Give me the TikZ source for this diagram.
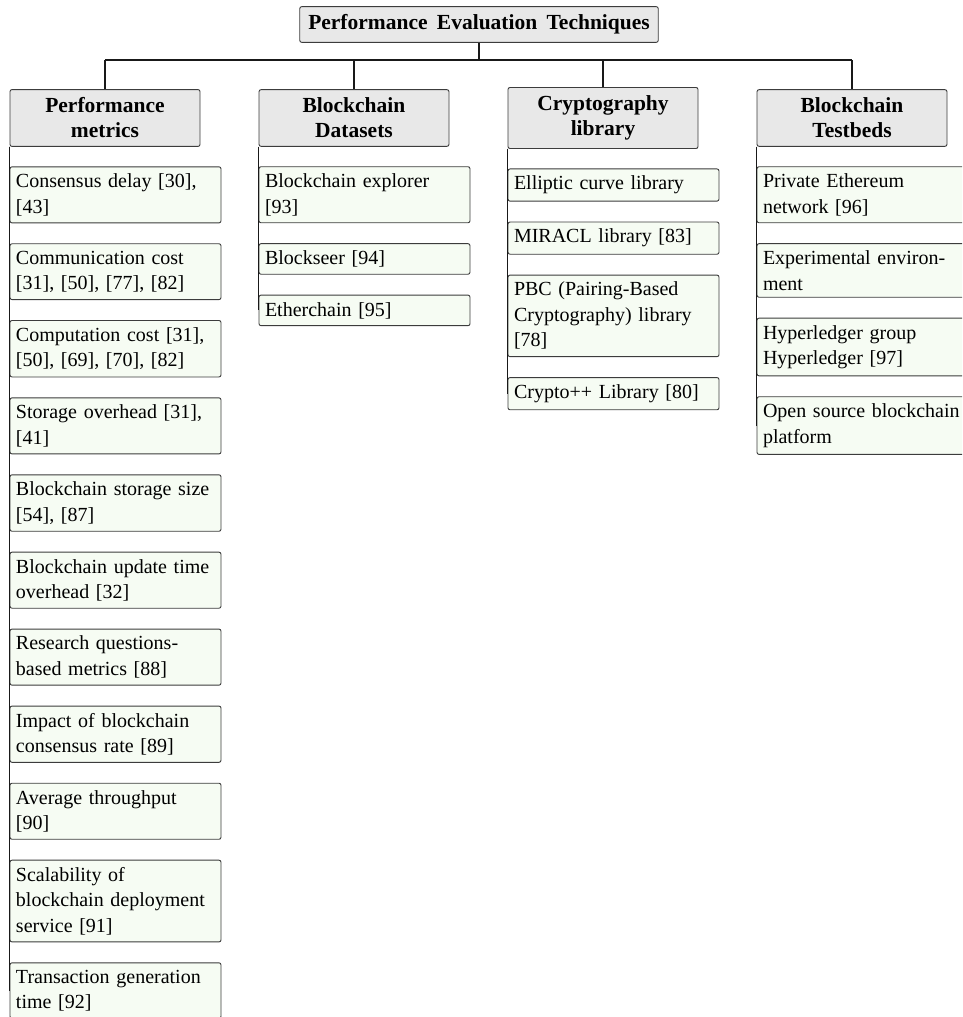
\documentclass[tikz,border=0pt]{standalone}
\usepackage{fontspec}
\setmainfont{Liberation Serif}
\definecolor{hdrfill}{RGB}{232,232,232}
\definecolor{leaffill}{RGB}{246,252,243}
\definecolor{bordercol}{RGB}{60,60,60}
\definecolor{linecol}{RGB}{25,25,25}
\begin{document}
\begin{tikzpicture}[x=1pt,y=-1pt,
  conn/.style={line width=1.3pt, draw=linecol},
  rootbox/.style={draw=bordercol, line width=0.9pt, rounded corners=2pt, fill=hdrfill,
    inner xsep=8.5pt, inner ysep=8pt,
    font=\fontsize{21.5}{25}\selectfont\bfseries},
  hdr/.style={draw=bordercol, line width=0.9pt, rounded corners=2pt, fill=hdrfill,
    text width=184pt, inner xsep=3pt, inner ysep=8.25pt, align=center,
    font=\fontsize{21.5}{25}\selectfont\bfseries},
  leaf/.style={draw=bordercol, line width=0.9pt, rounded corners=2pt, fill=leaffill,
    text width=199pt, inner xsep=6pt, inner ysep=7pt, align=left, anchor=north west,
    font=\fontsize{20}{25.5}\selectfont}]
\useasboundingbox (0,0) rectangle (962,1017);
\clip (0,0) rectangle (962,1017);

\node[rootbox] (root) at (479,24.5) {Performance\hspace{9.3pt}Evaluation\hspace{9.3pt}Techniques};
\node[hdr] (pm) at (105,118) {Performance\\metrics};
\node[hdr] (bd) at (354,118) {Blockchain\\Datasets};
\node[hdr] (cl) at (603,118) {Cryptography\\library};
\node[hdr] (bt) at (852,118) {Blockchain\\Testbeds};

% Performance metrics
\node[leaf] (pm1) at ([yshift=-19.5pt]pm.south west) {Consensus delay [30],\\{}[43]};
\node[leaf] (pm2) at ([yshift=-20pt]pm1.south west) {Communication cost\\{}[31], [50], [77], [82]};
\node[leaf] (pm3) at ([yshift=-20pt]pm2.south west) {Computation cost [31],\\{}[50], [69], [70], [82]};
\node[leaf] (pm4) at ([yshift=-20pt]pm3.south west) {Storage overhead [31],\\{}[41]};
\node[leaf] (pm5) at ([yshift=-20pt]pm4.south west) {Blockchain storage size\\{}[54], [87]};
\node[leaf] (pm6) at ([yshift=-20pt]pm5.south west) {Blockchain update time\\overhead [32]};
\node[leaf] (pm7) at ([yshift=-20pt]pm6.south west) {Research questions-\\based metrics [88]};
\node[leaf] (pm8) at ([yshift=-20pt]pm7.south west) {Impact of blockchain\\consensus rate [89]};
\node[leaf] (pm9) at ([yshift=-20pt]pm8.south west) {Average throughput\\{}[90]};
\node[leaf] (pm10) at ([yshift=-20pt]pm9.south west) {Scalability of\\blockchain deployment\\service [91]};
\node[leaf] (pm11) at ([yshift=-20pt]pm10.south west) {Transaction generation\\time [92]};

% Blockchain datasets
\node[leaf] (bd1) at ([yshift=-19.5pt]bd.south west) {Blockchain explorer\\{}[93]};
\node[leaf] (bd2) at ([yshift=-20pt]bd1.south west) {Blockseer [94]};
\node[leaf] (bd3) at ([yshift=-20pt]bd2.south west) {Etherchain [95]};

% Cryptography library
\node[leaf] (cl1) at ([yshift=-19.5pt]cl.south west) {Elliptic curve library};
\node[leaf] (cl2) at ([yshift=-20pt]cl1.south west) {MIRACL library [83]};
\node[leaf] (cl3) at ([yshift=-20pt]cl2.south west) {PBC (Pairing-Based\\Cryptography) library\\{}[78]};
\node[leaf] (cl4) at ([yshift=-20pt]cl3.south west) {Crypto++ Library [80]};

% Blockchain testbeds
\node[leaf] (bt1) at ([yshift=-19.5pt]bt.south west) {Private Ethereum\\network [96]};
\node[leaf] (bt2) at ([yshift=-20pt]bt1.south west) {Experimental environ-\\ment};
\node[leaf] (bt3) at ([yshift=-20pt]bt2.south west) {Hyperledger group\\Hyperledger [97]};
\node[leaf] (bt4) at ([yshift=-20pt]bt3.south west) {Open source blockchain\\platform};

% connectors
\coordinate (bus) at (0,60);
\draw[conn] (root.south) -- (root.south |- bus);
\draw[conn] (pm.north |- bus) -- (bt.north |- bus);
\foreach \h in {pm,bd,cl,bt} \draw[conn] (\h.north |- bus) -- (\h.north);
\foreach \i in {1,...,11} \draw[conn] (pm.south west) |- (pm\i.west);
\foreach \i in {1,2,3} \draw[conn] (bd.south west) |- (bd\i.west);
\foreach \i in {1,...,4} \draw[conn] (cl.south west) |- (cl\i.west);
\foreach \i in {1,...,4} \draw[conn] (bt.south west) |- (bt\i.west);
\end{tikzpicture}
\end{document}
